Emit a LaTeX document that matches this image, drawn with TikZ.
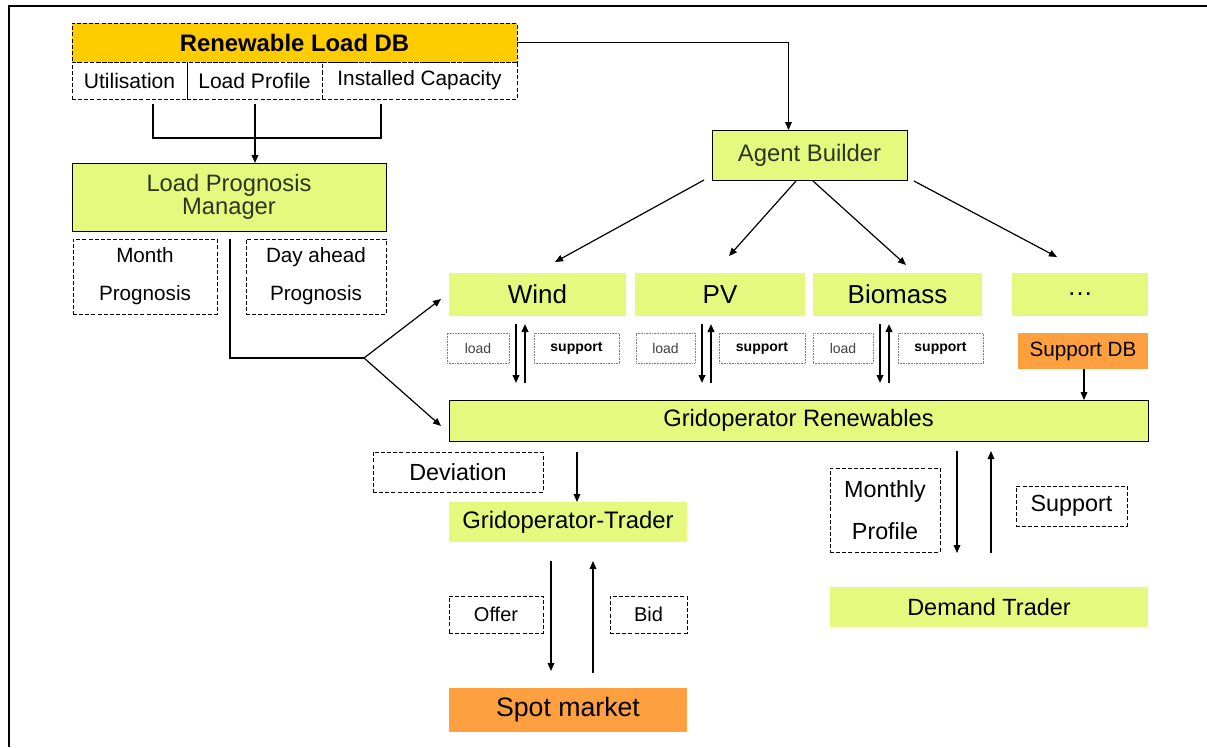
\documentclass[tikz,border=0pt]{standalone}
\usepackage{fontspec}
\setmainfont{Liberation Sans}
\usetikzlibrary{arrows.meta}
\definecolor{limefill}{RGB}{230,249,127}
\definecolor{dbgold}{RGB}{255,204,0}
\definecolor{orangefill}{RGB}{255,160,64}
\definecolor{mgrtext}{RGB}{45,52,35}
\newcommand{\fsz}[2]{\fontsize{#1pt}{#2pt}\selectfont}
\begin{document}
\begin{tikzpicture}[x=0.75pt,y=-0.75pt,
  every node/.style={inner sep=0pt, outer sep=0pt},
  % a box given by its left, top, right and bottom edges (pixel grid)
  area/.style args={#1/#2/#3/#4}{at={({(#1+#3)/2},{(#2+#4)/2})},
    minimum width={(#3-#1)*0.75pt}, minimum height={(#4-#2)*0.75pt}},
  limebox/.style={fill=limefill},
  orangebox/.style={fill=orangefill},
  framed/.style={draw, line width=0.75pt},
  dashbox/.style={draw, line width=0.75pt, dash pattern=on 3pt off 1.6pt},
  dotbox/.style={draw=gray, line width=0.5pt, dash pattern=on 0.6pt off 0.6pt},
  conn/.style={line width=0.9pt},
  arr/.style={line width=0.9pt, -{Triangle[length=6pt,width=5pt]}},
  pairarr/.style={line width=1.3pt, -{Triangle[length=6pt,width=5pt]}}]
\useasboundingbox (0,0) rectangle (1207,747);

% page frame (top and left edges)
\draw[line width=1.5pt] (9,747) -- (9,6) -- (1207,6);

% load database and its three fields
\node[fill=dbgold, dashbox, area=72/23/517/62, font=\fsz{17.9}{20}\bfseries] (db) {Renewable Load DB};
\node[dashbox, area=72/62/187/99, font=\fsz{15.8}{18}] (util) {Utilisation};
\node[dashbox, area=187/62/322/99, font=\fsz{15.8}{18}] (lprof) {Load Profile};
\node[dashbox, area=322/62/517/99, font=\fsz{15.6}{18}] (icap) {Installed Capacity};
\draw[line width=0.75pt] (util.north east) -- (util.south east);

% prognosis manager and its outputs
\node[limebox, framed, area=72/163/386/231, align=center, font=\fsz{17.8}{17.5}, text=mgrtext] (lpm) {Load Prognosis\\Manager};
\node[dashbox, area=73/239/217/314, align=center, font=\fsz{15.5}{28.5}] (month) {Month\\Prognosis};
\node[dashbox, area=246/239/386/314, align=center, font=\fsz{15.5}{28.5}] (dayahead) {Day ahead\\Prognosis};

% agent builder
\node[limebox, framed, area=712/130/907/180, font=\fsz{17.9}{20}, text=mgrtext] (ab) {Agent Builder};

% generator agents
\node[limebox, area=449/273/626/316, font=\fsz{19.5}{22}] (wind) {Wind};
\node[limebox, area=635/273/805/316, font=\fsz{19.5}{22}] (pv) {PV};
\node[limebox, area=813/273/982/316, font=\fsz{19.5}{22}] (bio) {Biomass};
\node[limebox, area=1012/273/1148/316, font=\fsz{19.5}{22}] (more) {\dots};

% message labels between agents and grid operator
\node[dotbox, area=447/333/509/363, font=\fsz{10.5}{12}, text=black!75] (load1) {load};
\node[dotbox, area=534/333/619/363, font=\fsz{10.5}{12}\bfseries] (sup1) {support};
\node[dotbox, area=636/333/695/363, font=\fsz{10.5}{12}, text=black!75] (load2) {load};
\node[dotbox, area=719/333/805/363, font=\fsz{10.5}{12}\bfseries] (sup2) {support};
\node[dotbox, area=813/333/873/363, font=\fsz{10.5}{12}, text=black!75] (load3) {load};
\node[dotbox, area=898/333/983/363, font=\fsz{10.5}{12}\bfseries] (sup3) {support};

\node[orangebox, area=1018/333/1148/369, font=\fsz{15.5}{18}] (sdb) {Support DB};

% grid operator
\node[limebox, framed, area=449/400/1148/441, font=\fsz{17.8}{20}] (gr) {Gridoperator Renewables};

% trading side
\node[dashbox, area=373/452/543/492, font=\fsz{17.5}{20}] (dev) {Deviation};
\node[limebox, area=449/502/687/542, font=\fsz{17.9}{20}] (got) {Gridoperator-Trader};
\node[dashbox, area=449/596/543/633, font=\fsz{15}{18}] (offer) {Offer};
\node[dashbox, area=610/596/687/633, font=\fsz{15}{18}] (bid) {Bid};
\node[orangebox, area=449/688/687/732, font=\fsz{20}{23}] (spot) {Spot market};

\node[dashbox, area=830/468/940/552, align=center, font=\fsz{17.5}{31.5}] (mprof) {Monthly\\Profile};
\node[dashbox, area=1016/486/1127/526, font=\fsz{17.5}{20}] (support) {Support};
\node[limebox, area=830/587/1148/627, font=\fsz{17.6}{20}] (dt) {Demand Trader};

% ---- connectors ----
% database fields merge into the prognosis manager
\coordinate (uA) at (153,104);
\coordinate (lA) at (255,104);
\coordinate (iA) at (381,104);
\draw[conn] (uA) -- (153,138) -- (381,138) -- (iA);
\draw[arr] (lA) -- (lA |- lpm.north);

% database to agent builder
\draw[arr] (db.east) -| ([xshift=-15.75pt]ab.north);

% agent builder spawns the agents
\coordinate (abW) at (704,180);
\coordinate (abP) at (796,181);
\coordinate (abB) at (813,181);
\coordinate (abM) at (914,181);
\coordinate (toW) at (555,262);
\coordinate (toP) at (729,256);
\coordinate (toB) at (906,265);
\coordinate (toM) at (1057,257);
\draw[arr] (abW) -- (toW);
\draw[arr] (abP) -- (toP);
\draw[arr] (abB) -- (toB);
\draw[arr] (abM) -- (toM);

% prognosis output forks to agents and grid operator
\coordinate (lpmOut) at (230,239);
\coordinate (fork) at (364,358);
\coordinate (forkUp) at (441,299);
\coordinate (forkDn) at (441,426);
\draw[conn] (lpmOut) |- (fork);
\draw[arr] (fork) -- (forkUp);
\draw[arr] (fork) -- (forkDn);

% load / support exchange arrows
\foreach \xd/\xu in {516/525, 702/711, 880/889}{
  \coordinate (pTop) at (\xd,324);
  \coordinate (pBot) at (\xd,383);
  \draw[pairarr] (pTop) -- (pBot);
  \coordinate (qTop) at (\xu,324);
  \coordinate (qBot) at (\xu,383);
  \draw[pairarr] (qBot) -- (qTop);
}

% support database feeds grid operator
\draw[arr] ([xshift=0.75pt]sdb.south) -- ([xshift=0.75pt]sdb.south |- gr.north);

% deviation to gridoperator-trader
\coordinate (devTop) at (577,452);
\draw[arr] (devTop) -- (devTop |- got.north);

% offer and bid
\coordinate (offTop) at (551,561);
\coordinate (offBot) at (551,671);
\coordinate (bidBot) at (593,673);
\coordinate (bidTop) at (593,561);
\draw[arr] (offTop) -- (offBot);
\draw[arr] (bidBot) -- (bidTop);

% monthly profile and support
\coordinate (mpTop) at (957,451);
\coordinate (mpBot) at (957,553);
\coordinate (spBot) at (991,553);
\coordinate (spTop) at (991,451);
\draw[arr] (mpTop) -- (mpBot);
\draw[arr] (spBot) -- (spTop);
\end{tikzpicture}
\end{document}
